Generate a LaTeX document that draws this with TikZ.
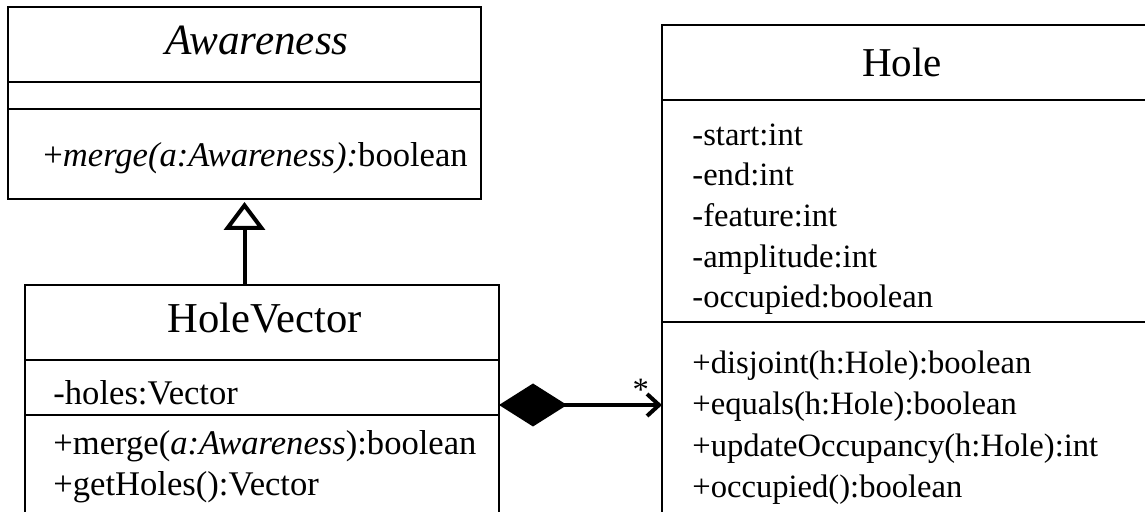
\documentclass[tikz,border=0pt]{standalone}
\usepackage{fontspec}
\setmainfont{Liberation Serif}
\usetikzlibrary{arrows.meta}

\tikzset{
  classbox/.style={draw, line width=1pt, inner sep=0pt, outer sep=0pt, anchor=north west},
  title/.style={font=\fontsize{#1}{24}\selectfont, anchor=base},
  title/.default=20.5,
  member/.style={font=\fontsize{#1}{19}\selectfont, anchor=base west, inner sep=0pt},
  member/.default=16.3,
  rule/.style={line width=1pt},
  link/.style={line width=2pt},
}

\begin{document}
\begin{tikzpicture}[x=0.5pt,y=-0.5pt]
  \useasboundingbox (0,0) rectangle (1145,512);
  \clip (0,0) rectangle (1145,512);
  % classes
  \node[classbox, minimum width=236.5pt, minimum height=96pt] (aware) at (8,7) {};
  \node[classbox, minimum width=237pt, minimum height=120pt] (hv) at (25,285) {};
  \node[classbox, minimum width=270pt, minimum height=380pt] (hole) at (662,25) {};
  % compartments
  \foreach \n/\yy in {aware/82, aware/109, hv/360, hv/415, hole/100, hole/322}
    \draw[rule] (\n.west |- 0,\yy) -- (\n.east |- 0,\yy);
  % titles
  \node[title=21.6] (awaretitle) at (257,55) {\itshape Awareness};
  \node[title=21.3] (hvtitle) at (264.5,333) {HoleVector};
  \node[title] (holetitle) at (902,77) {Hole};
  % members
  \node[member=17.3] (awaremerge) at (43,167) {+\textit{merge(a:Awareness):}boolean};
  \node[member=17.3] (holes) at (53,405) {-holes:Vector};
  \node[member=17.3] (hvmerge) at (53,455) {+merge(\textit{a:Awareness}):boolean};
  \node[member=17.3] (getholes) at (53,495) {+getHoles():Vector};
  \foreach \txt [count=\i] in {-start:int, -end:int, -feature:int, -amplitude:int, -occupied:boolean}
    \node[member] (attr\i) at (692,104.5+40.7*\i) {\txt};
  \foreach \txt [count=\i] in {+disjoint(h:Hole):boolean, +equals(h:Hole):boolean, +updateOccupancy(h:Hole):int, +occupied():boolean}
    \node[member] (op\i) at (692,331.5+41.6*\i) {\txt};
  % relations
  \draw[link, -{Triangle[open, length=14pt, width=20.5pt]}, shorten >=1.5pt] (hv.north -| aware.south) -- (aware.south);
  \draw[link, {Diamond[length=34pt, width=21.5pt]}-{Straight Barb[length=6pt, width=11pt]}] (hv.east) -- node[pos=0.87, above, font=\fontsize{16.3}{19}\selectfont, inner sep=1pt] (mult) {*} (hole.west);
\end{tikzpicture}
\end{document}
